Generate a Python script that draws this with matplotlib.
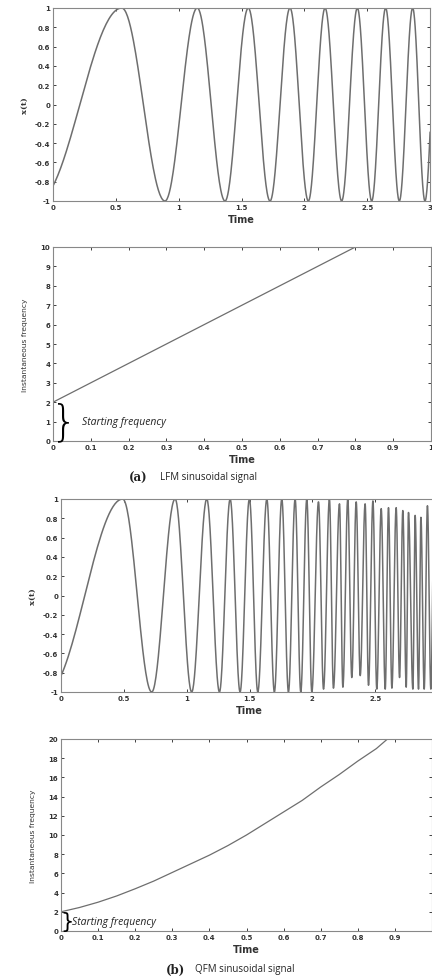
import numpy as np
import matplotlib
matplotlib.use("Agg")
import matplotlib.pyplot as plt

# extrema (time, value)
lfm_ext_t = [-0.12, 0.547, 0.891, 1.148, 1.369, 1.554, 1.727, 1.886, 2.032, 2.165,
             2.297, 2.422, 2.536, 2.647, 2.756, 2.862, 2.960, 3.06]
lfm_ext_v = [-1, 1, -1, 1, -1, 1, -1, 1, -1, 1, -1, 1, -1, 1, -1, 1, -1, 1]

qfm_ext_t = [-0.113, 0.491, 0.722, 0.908, 1.040, 1.160, 1.261, 1.346, 1.425, 1.499,
             1.566, 1.638, 1.698, 1.757, 1.810, 1.863, 1.908, 1.956, 1.996, 2.049,
             2.089, 2.136, 2.168, 2.216, 2.243, 2.282, 2.314, 2.349, 2.381, 2.420,
             2.447, 2.482, 2.513, 2.548, 2.580, 2.606, 2.633, 2.667, 2.694, 2.720,
             2.747, 2.765, 2.800, 2.818, 2.845, 2.864, 2.890, 2.916, 2.943, 2.97]
qfm_ext_v = [-1, 1, -1, 1, -1, 1, -1, 1, -1, 1,
             -1, 1, -1, 1, -1, 1, -1, 1, -1, 0.97,
             -0.97, 1, -0.96, 0.95, -0.95, 1.0, -0.85, 0.97, -0.83, 0.95,
             -0.93, 0.98, -0.97, 0.90, -0.97, 0.91, -0.96, 0.91, -0.85, 0.88,
             -0.95, 0.86, -0.97, 0.83, -0.97, 0.81, -0.97, 0.93, -0.97, 0.9]

# instantaneous frequency curves
lfm_f_t = [0, 0.8]
lfm_f = [2, 10]
qfm_f_t = [0, 0.05, 0.1, 0.15, 0.2, 0.25, 0.3, 0.35, 0.4, 0.45, 0.5,
           0.55, 0.6, 0.65, 0.7, 0.75, 0.8, 0.85, 0.88]
qfm_f = [2, 2.45, 3.0, 3.65, 4.4, 5.2, 6.1, 7.0, 7.9, 8.9, 10.0,
         11.2, 12.4, 13.6, 15.0, 16.3, 17.7, 19.0, 20]


def wave(ext_t, ext_v, n=60):
    # smooth half-cosine strokes between consecutive extrema
    ts, vs = [], []
    for i in range(len(ext_t) - 1):
        u = np.linspace(0, 1, n)
        ts.append(ext_t[i] + (ext_t[i + 1] - ext_t[i]) * u)
        vs.append(ext_v[i] + (ext_v[i + 1] - ext_v[i]) * (1 - np.cos(np.pi * u)) / 2)
    return np.concatenate(ts), np.concatenate(vs)


W, H = 432, 979
fig = plt.figure(figsize=(W / 100, H / 100), dpi=100)

line_c = '#6e6e6e'
tick_kw = dict(labelsize=5, direction='in', length=2, width=0.6, colors='#222222',
               top=True, right=True, pad=2)


def box(l, r, t, b):
    return fig.add_axes([l / W, 1 - b / H, (r - l) / W, (b - t) / H])


def style(ax):
    for s in ax.spines.values():
        s.set_color('#888888')
        s.set_linewidth(0.8)
    ax.tick_params(**tick_kw)
    for lab in ax.get_xticklabels() + ax.get_yticklabels():
        lab.set_fontweight('bold')
        lab.set_color('#333333')


def labels(vals, hide_last=False):
    out = ['%g' % (0.0 if abs(v) < 1e-9 else v) for v in vals]
    if hide_last:
        out[-1] = ''
    return out


sig_x = np.arange(0, 3.01, 0.5)
sig_y = np.round(np.arange(-1, 1.01, 0.2), 1)
frq_x = np.round(np.arange(0, 1.01, 0.1), 1)

# (a) LFM signal
ax1 = box(53, 430, 9, 202)
t, x = wave(lfm_ext_t, lfm_ext_v)
ax1.plot(t, x, color=line_c, lw=1.1)
ax1.set_xlim(0, 3)
ax1.set_ylim(-1, 1)
ax1.set_xticks(sig_x)
ax1.set_xticklabels(labels(sig_x))
ax1.set_yticks(sig_y)
ax1.set_yticklabels(labels(sig_y))
ax1.set_xlabel('Time', fontsize=7, fontweight='bold', color='#333333', labelpad=3)
ax1.set_ylabel('x(t)', fontsize=6, fontweight='bold', family='DejaVu Serif',
               color='#333333', labelpad=4)
style(ax1)

ax2 = box(53, 431, 248, 442)
ax2.plot(lfm_f_t, lfm_f, color=line_c, lw=0.9)
ax2.set_xlim(0, 1)
ax2.set_ylim(0, 10)
ax2.set_xticks(frq_x)
ax2.set_xticklabels(labels(frq_x))
ax2.set_yticks(range(0, 11))
ax2.set_xlabel('Time', fontsize=7, fontweight='bold', color='#333333', labelpad=3)
ax2.set_ylabel('Instantaneous frequency', fontsize=5.4, color='#333333', labelpad=9)
ax2.text(0.03, 1.0, '}', fontsize=30, va='center', ha='center', color='black',
         family='DejaVu Sans', fontweight='light')
ax2.text(0.076, 1.0, 'Starting frequency', fontsize=7.5, style='italic',
         va='center', ha='left', color='#222222', family='Open Sans')
style(ax2)

fig.text(148 / W, 1 - 478 / H, '(a)', fontsize=8.5, fontweight='bold',
         family='DejaVu Serif', ha='right', va='center', color='#222222')
fig.text(160 / W, 1 - 478 / H, 'LFM sinusoidal signal', fontsize=7,
         family='Open Sans', ha='left', va='center', color='#222222')

# (b) QFM signal
ax3 = box(61, 438, 500, 693)
t, x = wave(qfm_ext_t, qfm_ext_v, n=40)
ax3.plot(t, x, color=line_c, lw=1.1)
ax3.set_xlim(0, 3)
ax3.set_ylim(-1, 1)
ax3.set_xticks(sig_x)
ax3.set_xticklabels(labels(sig_x, hide_last=True))
ax3.set_yticks(sig_y)
ax3.set_yticklabels(labels(sig_y))
ax3.set_xlabel('Time', fontsize=7, fontweight='bold', color='#333333', labelpad=3)
ax3.set_ylabel('x(t)', fontsize=6, fontweight='bold', family='DejaVu Serif',
               color='#333333', labelpad=4)
style(ax3)

ax4 = box(61, 432, 740, 932)
ax4.plot(qfm_f_t, qfm_f, color=line_c, lw=0.9)
ax4.set_xlim(0, 1)
ax4.set_ylim(0, 20)
ax4.set_xticks(frq_x)
ax4.set_xticklabels(labels(frq_x, hide_last=True))
ax4.set_yticks(range(0, 21, 2))
ax4.set_xlabel('Time', fontsize=7, fontweight='bold', color='#333333', labelpad=3)
ax4.set_ylabel('Instantaneous frequency', fontsize=5.4, color='#333333', labelpad=9)
ax4.text(0.015, 1.0, '}', fontsize=15, va='center', ha='center', color='black',
         family='DejaVu Sans')
ax4.text(0.03, 1.0, 'Starting frequency', fontsize=7.5, style='italic',
         va='center', ha='left', color='#222222', family='Open Sans')
style(ax4)

fig.text(185 / W, 1 - 970 / H, '(b)', fontsize=8.5, fontweight='bold',
         family='DejaVu Serif', ha='right', va='center', color='#222222')
fig.text(195 / W, 1 - 970 / H, 'QFM sinusoidal signal', fontsize=7,
         family='Open Sans', ha='left', va='center', color='#222222')

fig.savefig('out.png', dpi=100)
